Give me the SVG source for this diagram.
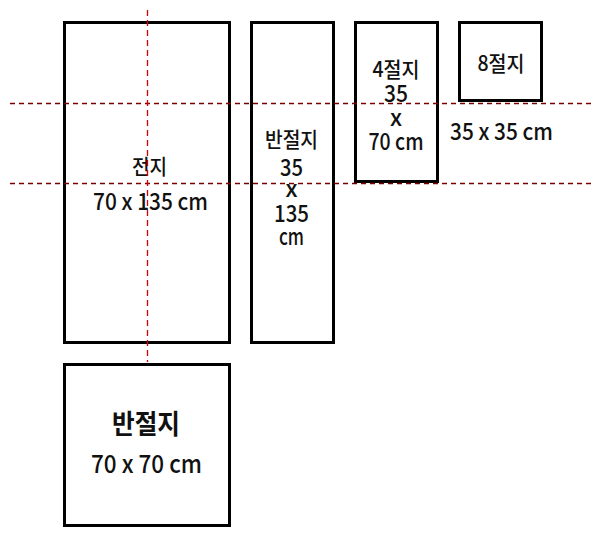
<svg xmlns="http://www.w3.org/2000/svg" width="615" height="536" viewBox="0 0 615 536">
<style>
.box{fill:#fff;stroke:#000;stroke-width:3}
.t{font-family:"Noto Sans CJK KR","Noto Sans",sans-serif;font-size:21px;font-weight:500;fill:#111;text-anchor:middle}
.n{font-size:23px}
.big{font-size:27px;font-weight:700}
.bn{font-size:25px}
.hl{stroke:#7a0000;stroke-width:1.3;stroke-dasharray:5,4;fill:none}
.vl{stroke:#d40000;stroke-width:1.3;stroke-dasharray:6,4;fill:none}
</style>
<rect width="615" height="536" fill="#fff"/>
<g id="jeonji">
<rect class="box" x="64.5" y="22.5" width="165" height="320"/>
<text class="t" x="149.5" y="174" textLength="35" lengthAdjust="spacingAndGlyphs">전지</text>
<text class="t n" x="150.5" y="210" textLength="115" lengthAdjust="spacingAndGlyphs">70 x 135 cm</text>
</g>
<g id="banjeolji-tall">
<rect class="box" x="251.5" y="22.5" width="82" height="320"/>
<text class="t" x="291.5" y="147" textLength="53" lengthAdjust="spacingAndGlyphs">반절지</text>
<text class="t n" x="291.5" y="176" textLength="23" lengthAdjust="spacingAndGlyphs">35</text>
<text class="t n" x="291.5" y="197">x</text>
<text class="t n" x="291.5" y="222" textLength="35" lengthAdjust="spacingAndGlyphs">135</text>
<text class="t n" x="291.5" y="245" textLength="25" lengthAdjust="spacingAndGlyphs">cm</text>
</g>
<g id="sajeolji">
<rect class="box" x="355.5" y="22.5" width="82" height="159"/>
<text class="t" x="396" y="77" textLength="47" lengthAdjust="spacingAndGlyphs">4절지</text>
<text class="t n" x="396" y="102" textLength="24" lengthAdjust="spacingAndGlyphs">35</text>
<text class="t n" x="396" y="126">x</text>
<text class="t n" x="396" y="150" textLength="55" lengthAdjust="spacingAndGlyphs">70 cm</text>
</g>
<g id="paljeolji">
<rect class="box" x="459.5" y="22.5" width="82" height="78"/>
<text class="t" x="501" y="71" textLength="47" lengthAdjust="spacingAndGlyphs">8절지</text>
<text class="t n" x="501.5" y="140" textLength="103" lengthAdjust="spacingAndGlyphs">35 x 35 cm</text>
</g>
<g id="banjeolji-square">
<rect class="box" x="64.5" y="364.5" width="165" height="161"/>
<text class="t big" x="146" y="434" textLength="68" lengthAdjust="spacingAndGlyphs">반절지</text>
<text class="t bn" x="146.5" y="473" textLength="111" lengthAdjust="spacingAndGlyphs">70 x 70 cm</text>
</g>
<g id="connectors">
<line class="hl" x1="10" y1="103.5" x2="592" y2="103.5"/>
<line class="hl" x1="10" y1="183.5" x2="592" y2="183.5"/>
<line class="vl" x1="147.5" y1="10" x2="147.5" y2="362"/>
</g>
</svg>
